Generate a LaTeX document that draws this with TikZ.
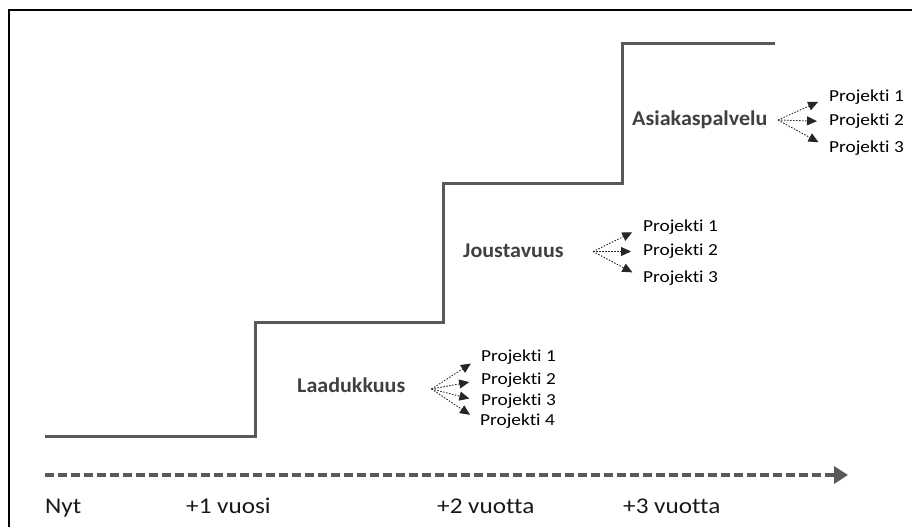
\documentclass[tikz,border=0pt]{standalone}
\usepackage{fontspec}
\setmainfont{Carlito}
\newfontfamily\axisfont[FakeStretch=1.12,Ligatures=NoCommon]{Carlito}
\newfontfamily\stagefont[FakeStretch=1.05,Ligatures=NoCommon]{Carlito}
\newfontfamily\projfont[FakeStretch=1.15,Ligatures=NoCommon]{Carlito}
\usetikzlibrary{arrows.meta}
\definecolor{stairgray}{HTML}{595959}
\definecolor{stagegray}{HTML}{404040}
\tikzset{
  frameline/.style={draw=black, line width=1.4pt},
  stair/.style={draw=stairgray, line width=3pt, line join=miter},
  timeline/.style={draw=stairgray, line width=3.5pt, dash pattern=on 9pt off 4pt,
    -{Triangle[length=14pt,width=17pt]}},
  axislabel/.style={anchor=base west, inner sep=0pt, text=black!90,
    font=\axisfont\fontsize{22.5}{25}\selectfont},
  stagelabel/.style={anchor=base west, inner sep=0pt, text=stagegray,
    font=\stagefont\bfseries\fontsize{21}{24}\selectfont},
  projlabel/.style={anchor=west, inner sep=0pt, text=black,
    font=\projfont\fontsize{16.8}{19}\selectfont},
  branch/.style={draw=black!85, line width=0.9pt, dash pattern=on 1.5pt off 1.5pt,
    -{Triangle[length=10pt,width=9pt]}, shorten >=12pt}
}
\begin{document}
\begin{tikzpicture}[x=1pt,y=-1pt]
\useasboundingbox (0,0) rectangle (912,527);

% outer frame (left and top edges)
\draw[frameline] (9,527) -- (9,10) -- (912,10);

% staircase of stages
\draw[stair] (45,436) -- (255,436) -- (255,322) -- (443,322) -- (443,183)
  -- (622,183) -- (622,44) -- (775,44);

% time axis
\coordinate (t0) at (45,475);
\coordinate (t1) at (848,475);
\draw[timeline] (t0) -- (t1);
\node[axislabel] (nyt) at (45,513) {Nyt};
\node[axislabel] (y1) at (186,513) {+1 vuosi};
\node[axislabel] (y2) at (437,513) {+2 vuotta};
\node[axislabel] (y3) at (623,513) {+3 vuotta};

% stage 1
\node[stagelabel] (laatu) at (297,392) {Laadukkuus};
\coordinate (laatuo) at (431.5,389);
\node[projlabel] (lp1) at (481,357) {Projekti 1};
\node[projlabel] (lp2) at (481,380) {Projekti 2};
\node[projlabel] (lp3) at (481,401.5) {Projekti 3};
\node[projlabel] (lp4) at (480,421.5) {Projekti 4};
\foreach \p in {lp1,lp2,lp3,lp4} \draw[branch] (laatuo) -- (\p.west);

% stage 2
\node[stagelabel] (jousto) at (463,257) {Joustavuus};
\coordinate (joustoo) at (593,251.5);
\node[projlabel] (jp1) at (643,227) {Projekti 1};
\node[projlabel] (jp2) at (643,251.5) {Projekti 2};
\node[projlabel] (jp3) at (643,278) {Projekti 3};
\foreach \p in {jp1,jp2,jp3} \draw[branch] (joustoo) -- (\p.west);

% stage 3
\node[stagelabel] (asiakas) at (632,125) {Asiakaspalvelu};
\coordinate (asiakaso) at (778,120);
\node[projlabel] (ap1) at (829,97) {Projekti 1};
\node[projlabel] (ap2) at (829,121.5) {Projekti 2};
\node[projlabel] (ap3) at (829,148) {Projekti 3};
\foreach \p in {ap1,ap2,ap3} \draw[branch] (asiakaso) -- (\p.west);
\end{tikzpicture}
\end{document}
